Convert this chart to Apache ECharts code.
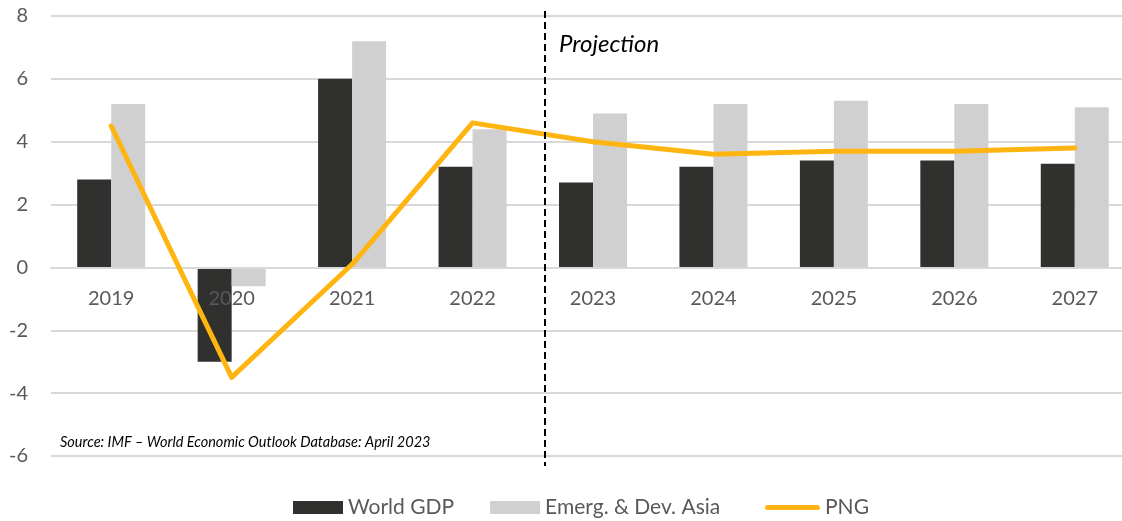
<!DOCTYPE html>
<html>
<head>
<meta charset="utf-8">
<script src="https://cdn.jsdelivr.net/npm/echarts@6/dist/echarts.min.js"></script>
<style>
  html, body { margin: 0; padding: 0; background: #fff; }
  #chart { width: 1122px; height: 521px; }
</style>
</head>
<body>
<div id="chart"></div>
<script>
// values
var years = ['2019', '2020', '2021', '2022', '2023', '2024', '2025', '2026', '2027'];
var worldGdp = [2.8, -3.0, 6.0, 3.2, 2.7, 3.2, 3.4, 3.4, 3.3];
var emergAsia = [5.2, -0.6, 7.2, 4.4, 4.9, 5.2, 5.3, 5.2, 5.1];
var png = [4.5, -3.5, 0.1, 4.6, 4.0, 3.6, 3.7, 3.7, 3.8];
var yTicks = { min: -6, max: 8, interval: 2 };
var projectionAt = 3.6; // between 2022 and 2023
var sourceNote = 'Source: IMF \u2013 World Economic Outlook Database: April 2023';

var font = 'Lato, "Open Sans", sans-serif';
var legendText = { fontSize: 21, color: '#595959', fontFamily: font };
var myChart = echarts.init(document.getElementById('chart'));

var option = {
  animation: false,
  backgroundColor: '#ffffff',
  textStyle: { fontFamily: font },
  grid: { left: 51, top: 16, width: 1084, height: 440, containLabel: false, outerBoundsMode: 'none' },
  legend: [
    {
      left: 293,
      top: 497,
      padding: 0,
      itemWidth: 50,
      itemHeight: 13,
      itemGap: 36,
      textStyle: legendText,
      data: [
        { name: 'World GDP', icon: 'rect' },
        { name: 'Emerg. & Dev. Asia', icon: 'rect' }
      ]
    },
    {
      left: 765,
      top: 497,
      padding: 0,
      itemWidth: 55,
      itemHeight: 13,
      textStyle: legendText,
      data: [
        { name: 'PNG', icon: 'path://M2.5,0 L52.5,0 A2.5,2.5 0 0 1 52.5,5 L2.5,5 A2.5,2.5 0 0 1 2.5,0 Z' }
      ]
    }
  ],
  xAxis: {
    type: 'category',
    data: years,
    z: 3,
    axisLine: { show: true, onZero: false, lineStyle: { color: '#d9d9d9', width: 2 } },
    axisTick: { show: false },
    axisLabel: { fontSize: 20, color: '#595959', margin: 21, fontFamily: font },
    splitLine: { show: false }
  },
  yAxis: {
    type: 'value',
    min: yTicks.min,
    max: yTicks.max,
    interval: yTicks.interval,
    axisLine: { show: false },
    axisTick: { show: false },
    axisLabel: { fontSize: 20, color: '#595959', margin: 23, fontFamily: font },
    splitLine: { lineStyle: { color: '#d9d9d9', width: 2 } }
  },
  series: [
    {
      name: 'World GDP',
      type: 'bar',
      z: 2,
      barWidth: 34,
      barGap: '0%',
      itemStyle: { color: '#30302e' },
      data: worldGdp
    },
    {
      name: 'Emerg. & Dev. Asia',
      type: 'bar',
      z: 2,
      barWidth: 34,
      barGap: '0%',
      itemStyle: { color: '#d0d0d0' },
      data: emergAsia
    },
    {
      name: 'PNG',
      type: 'line',
      z: 4,
      symbol: 'none',
      showSymbol: false,
      itemStyle: { color: '#ffb511' },
      lineStyle: { color: '#ffb511', width: 5, cap: 'round', join: 'round' },
      data: png
    }
  ]
};
myChart.setOption(option);

// move the category axis (line + labels) up to the zero value
var y0 = myChart.convertToPixel({ yAxisIndex: 0 }, 0);
var yBottom = myChart.convertToPixel({ yAxisIndex: 0 }, yTicks.min);
myChart.setOption({ xAxis: { offset: y0 - yBottom } });

// dashed projection divider + notes, placed through the axis scale
var xa = myChart.convertToPixel({ xAxisIndex: 0 }, 3);
var xb = myChart.convertToPixel({ xAxisIndex: 0 }, 4);
var xDiv = Math.round(xa + (projectionAt - 3) * (xb - xa));
myChart.setOption({
  graphic: [
    {
      type: 'line',
      z: 5,
      shape: { x1: xDiv, y1: 11, x2: xDiv, y2: 466 },
      style: { stroke: '#000', lineWidth: 2, lineDash: [7, 4] }
    },
    {
      type: 'text',
      z: 5,
      left: xDiv + 14,
      top: 32,
      style: { text: 'Projection', font: 'italic 24px ' + font, fill: '#000' }
    },
    {
      type: 'text',
      z: 5,
      left: 60,
      top: 435,
      style: { text: sourceNote, font: 'italic 14.5px ' + font, fill: '#000' }
    }
  ]
});

window.onresize = function () {
  myChart.resize();
};
</script>
</body>
</html>
